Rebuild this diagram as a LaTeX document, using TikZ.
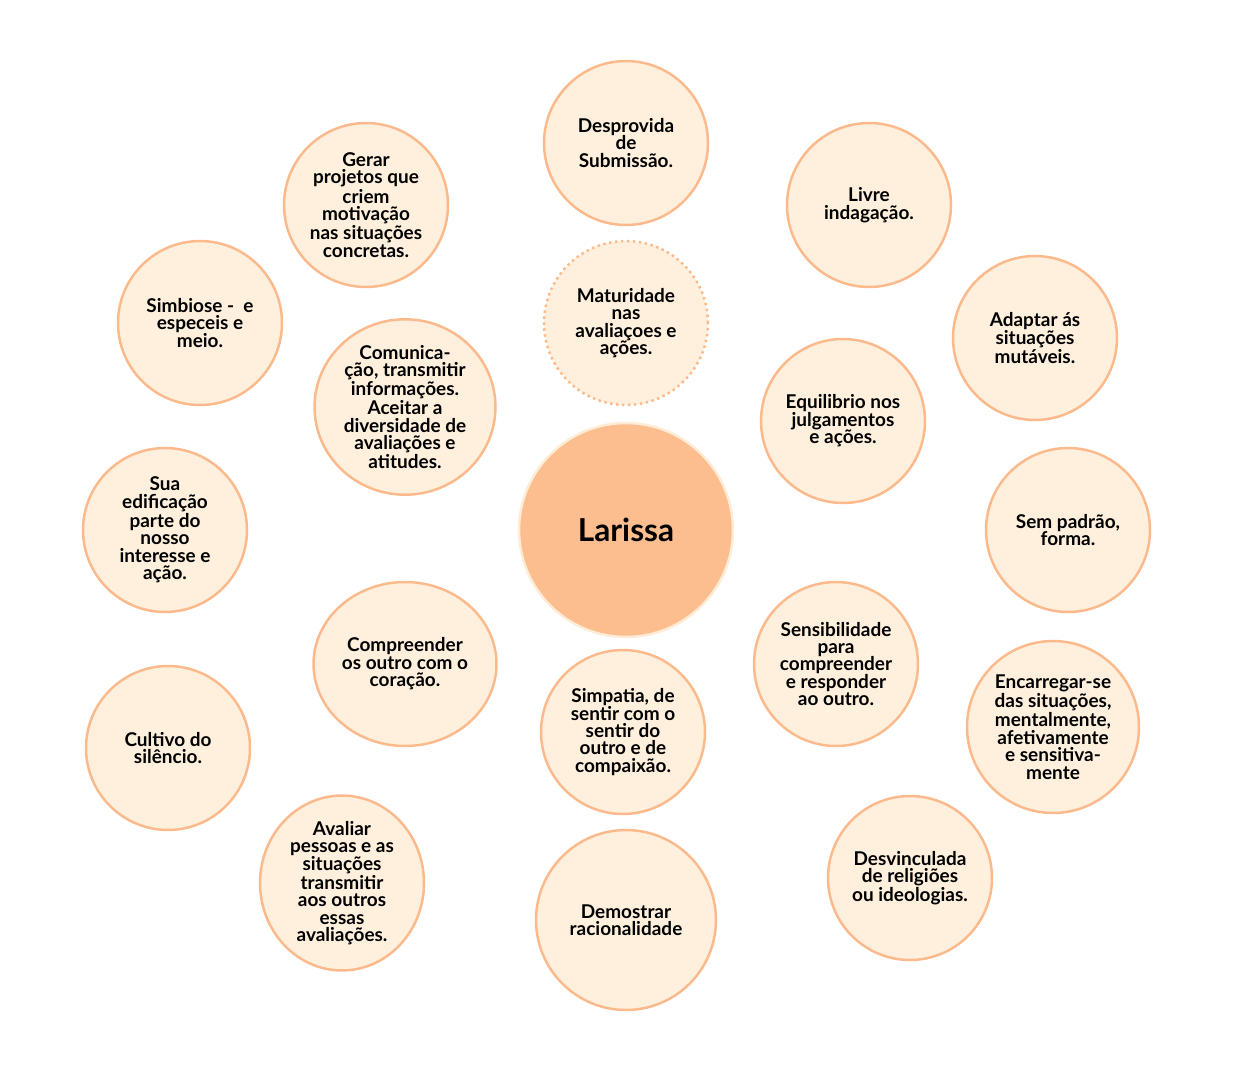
\documentclass[tikz,border=0pt]{standalone}
\usepackage{fontspec}
\setmainfont{Lato}
\usetikzlibrary{positioning, shapes.geometric}
\definecolor{bubblefill}{RGB}{254,240,220}
\definecolor{bubbleline}{RGB}{252,186,140}
\definecolor{corefill}{RGB}{253,190,143}
\definecolor{coreline}{RGB}{254,236,214}
\begin{document}
\begin{tikzpicture}[x=0.02cm, y=-0.02cm,
    bubble/.style={circle, draw=bubbleline, fill=bubblefill, line width=1.4pt,
        inner sep=0pt, minimum size=3.28cm, align=center,
        font=\fontsize{10.8}{9.9}\selectfont\bfseries},
    oval/.style={bubble, ellipse, minimum width=#1, minimum height=3.28cm},
    core/.style={circle, draw=coreline, fill=corefill, line width=1.4pt,
        inner sep=0pt, minimum size=4.28cm, font=\fontsize{18}{20}\selectfont\bfseries}]
    \useasboundingbox (0,0) rectangle (1252,1076);

    % ---- CENTRO ----
    \node[core] (larissa) at (626,530) {Larissa};

    % ---- COLUNA CENTRAL ----
    \node[bubble] (submissao) at (626,143) {Desprovida\\de\\Submissão.};
    \node[bubble, dotted] (maturidade) at (626,323) {Maturidade\\nas\\avaliaçoes e\\ações.};
    \node[bubble] (simpatia) at (623,732) {Simpatia, de\\sentir com o\\sentir do\\outro e de\\compaixão.};
    \node[bubble, minimum size=3.6cm] (racional) at (626,920) {Demostrar\\racionalidade};

    % ---- ESQUERDA ----
    \node[bubble] (projetos) at (366,205) {Gerar\\projetos que\\criem\\motivação\\nas situações\\concretas.};
    \node[bubble] (simbiose) at (200,323) {Simbiose -\ \ e\\especeis e\\meio.};
    \node[oval=3.62cm, minimum height=3.46cm] (comunica) at (405,407) {Comunica-\\ção, transmitir\\informações.\\Aceitar a\\diversidade de\\avaliações e\\atitudes.};
    \node[bubble] (edifica) at (165,530) {Sua\\edificação\\parte do\\nosso\\interesse e\\ação.};
    \node[oval=3.66cm] (coracao) at (405,664) {Compreender\\os outro com o\\coração.};
    \node[bubble] (silencio) at (168,748) {Cultivo do\\silêncio.};
    \node[oval=3.28cm, minimum height=3.46cm] (avaliar) at (342,883) {Avaliar\\pessoas e as\\situações\\transmitir\\aos outros\\essas\\avaliações.};

    % ---- DIREITA ----
    \node[bubble] (livre) at (869,205) {Livre\\indagação.};
    \node[bubble] (adaptar) at (1035,338) {Adaptar ás\\situações\\mutáveis.};
    \node[bubble] (equilibrio) at (843,421) {Equilibrio nos\\julgamentos\\e ações.};
    \node[bubble] (padrao) at (1068,530) {Sem padrão,\\forma.};
    \node[bubble] (sensivel) at (836,664) {Sensibilidade\\para\\compreender\\e responder\\ao outro.};
    \node[bubble, minimum size=3.44cm] (encarregar) at (1053,727) {Encarregar-se\\das situações,\\mentalmente,\\afetivamente\\e sensitiva-\\mente};
    \node[bubble] (religioes) at (910,878) {Desvinculada\\de religiões\\ou ideologias.};
\end{tikzpicture}
\end{document}
